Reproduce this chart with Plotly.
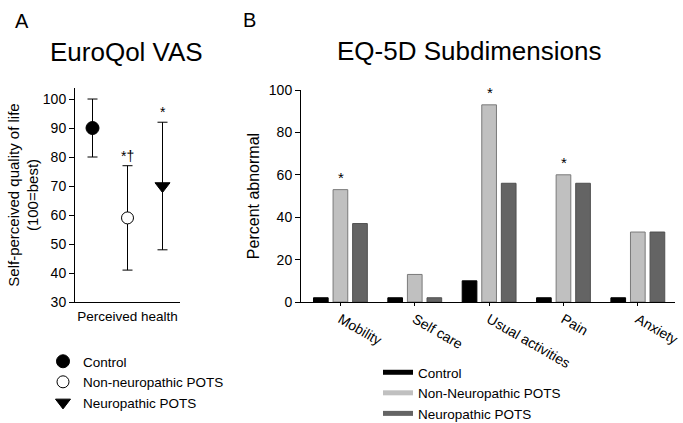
import plotly.graph_objects as go

FONT = "Liberation Sans, Arial, sans-serif"

# Panel A data
groups_a = ["Control", "Non-neuropathic POTS", "Neuropathic POTS"]
vas_mean = [90, 59, 70]
vas_err = [10, 18, 22]
vas_sig = ["", "*†", "*"]
a_ticks = [30, 40, 50, 60, 70, 80, 90, 100]

# Panel B data
categories = ["Mobility", "Self care", "Usual activities", "Pain", "Anxiety"]
control = [2, 2, 10, 2, 2]
non_neuro = [53, 13, 93, 60, 33]
neuro = [37, 2, 56, 56, 33]
b_sig = ["*", "", "*", "*", ""]
b_ticks = [0, 20, 40, 60, 80, 100]

W, H = 683, 423
fig = go.Figure()

markers = [
    dict(symbol="circle", size=13, color="black", line=dict(color="black", width=1)),
    dict(symbol="circle", size=12, color="white", line=dict(color="black", width=1)),
    dict(symbol="triangle-down", size=13, color="black", line=dict(color="black", width=1)),
]
for i, g in enumerate(groups_a):
    fig.add_trace(go.Scatter(
        x=[g], y=[vas_mean[i]], mode="markers", name=g,
        marker=markers[i],
        error_y=dict(type="data", array=[vas_err[i]], color="black", thickness=1, width=5),
        xaxis="x", yaxis="y", legend="legend", cliponaxis=False,
    ))

bar_specs = [
    ("Control", control, "#000000", "#000000"),
    ("Non-Neuropathic POTS", non_neuro, "#c0c0c0", "#7a7a7a"),
    ("Neuropathic POTS", neuro, "#646464", "#505050"),
]
for name, vals, col, lc in bar_specs:
    fig.add_trace(go.Bar(
        x=categories, y=vals, name=name, marker=dict(color=col, line=dict(color=lc, width=1)),
        xaxis="x2", yaxis="y2", showlegend=False,
    ))
for name, vals, col, lc in bar_specs:
    fig.add_trace(go.Scatter(
        x=[None], y=[None], mode="lines", name=name,
        line=dict(color=col, width=5), xaxis="x2", yaxis="y2", legend="legend2",
    ))

annotations = []
for i, s in enumerate(vas_sig):
    if s:
        annotations.append(dict(x=groups_a[i], y=vas_mean[i] + vas_err[i], xref="x", yref="y",
                                text=s, showarrow=False, yanchor="bottom", yshift=0,
                                font=dict(size=14, color="black")))
for i, s in enumerate(b_sig):
    if s:
        annotations.append(dict(x=categories[i], y=non_neuro[i], xref="x2", yref="y2",
                                text=s, showarrow=False, yanchor="bottom", yshift=2,
                                xshift=1, font=dict(size=15, color="black")))

annotations += [
    dict(x=13 / W, y=1 - 8 / H, xref="paper", yref="paper", text="A", showarrow=False,
         xanchor="left", yanchor="top", font=dict(size=20, color="black")),
    dict(x=241 / W, y=1 - 7 / H, xref="paper", yref="paper", text="B", showarrow=False,
         xanchor="left", yanchor="top", font=dict(size=20, color="black")),
    dict(x=126 / W, y=1 - 52 / H, xref="paper", yref="paper", text="EuroQol VAS", showarrow=False,
         xanchor="center", yanchor="middle", font=dict(size=26, color="black")),
    dict(x=469 / W, y=1 - 51 / H, xref="paper", yref="paper", text="EQ-5D Subdimensions", showarrow=False,
         xanchor="center", yanchor="middle", font=dict(size=26, color="black")),
]

axis_common = dict(showline=True, linecolor="black", linewidth=1, showgrid=False, zeroline=False,
                   tickfont=dict(size=14, color="black"), tickcolor="black")

fig.update_layout(
    width=W, height=H,
    margin=dict(l=0, r=0, t=0, b=0, autoexpand=False),
    paper_bgcolor="white", plot_bgcolor="white",
    font=dict(family=FONT, color="black", size=13),
    barmode="group", bargap=0.21, bargroupgap=0.25,
    xaxis=dict(domain=[75 / W, 180 / W], range=[-0.5, 2.5], type="category",
               showticklabels=False, ticks="", anchor="y",
               title=dict(text="Perceived health", font=dict(size=13.5), standoff=9),
               **axis_common),
    yaxis=dict(domain=[1 - 302 / H, 1 - 88 / H], range=[30, 103.8], tickvals=a_ticks,
               ticks="outside", ticklen=5, anchor="x",
               title=dict(text="Self-perceived quality of life<br>(100=best)", font=dict(size=15), standoff=0),
               **axis_common),
    xaxis2=dict(domain=[301 / W, 675 / W], range=[-0.53, 4.5], type="category",
                tickangle=30, ticks="outside", ticklen=3, anchor="y2",
                **axis_common),
    yaxis2=dict(domain=[1 - 302 / H, 1 - 90 / H], range=[0, 100], tickvals=b_ticks,
                ticks="outside", ticklen=5, anchor="x2",
                title=dict(text="Percent abnormal", font=dict(size=16), standoff=5),
                **axis_common),
    legend=dict(x=43 / W, y=1 - 346 / H, xanchor="left", yanchor="top",
                bgcolor="rgba(0,0,0,0)", font=dict(size=13.5), tracegroupgap=0, itemsizing="trace"),
    legend2=dict(x=378 / W, y=1 - 357 / H, xanchor="left", yanchor="top",
                 bgcolor="rgba(0,0,0,0)", font=dict(size=13.5), tracegroupgap=0),
    annotations=annotations,
    showlegend=True,
)

fig.write_html("out.html", config={"displayModeBar": False},
               post_script="document.body.style.margin='0';document.body.style.padding='0';")
